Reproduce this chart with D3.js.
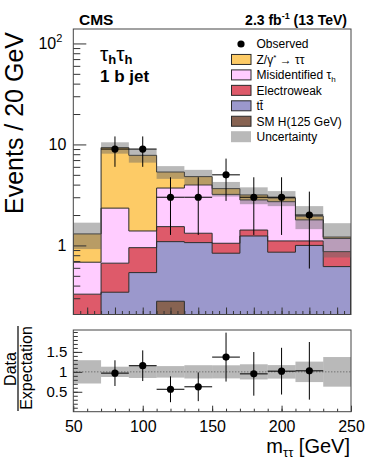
<!DOCTYPE html>
<html><head><meta charset="utf-8">
<script src="https://cdn.jsdelivr.net/npm/d3@7"></script>
<style>
body{margin:0;background:#fff}
svg{display:block}
text{font-family:"Liberation Sans",Arial,Helvetica,sans-serif;fill:#000}
</style>
</head><body><svg id="c" width="366" height="463"></svg>
<script>
// ---------------- data ----------------
const binEdges   = [50,70,90,110,130,150,170,190,210,230,250];
const higgs      = [0.0, 0.01, 0.08, 0.28, 0.08, 0.02, 0.01, 0.01, 0.0, 0.0];
const ttbar      = [0.12, 0.334, 0.458, 0.81, 0.986, 0.817, 1.23, 0.847, 1.0, 0.617];
const electroweak= [0.209, 0.323, 0.412, 0.445, 0.254, 0.213, 0.18, 0.251, 0.108, 0.251];
const misid      = [0.353, 1.673, 0.44, 2.165, 2.65, 2.15, 1.40, 1.602, 0.682, 0.302];
const ztt        = [0.618, 6.96, 6.41, 1.63, 0.83, 0.45, 0.34, 0.24, 0.16, 0.04];
const bkgUnc     = [0.38, 1.2, 1.2, 0.77, 0.8, 0.6, 0.6, 0.5, 0.5, 0.45];
const obsX       = [80,100,120,140,160,180,200,220];
const obs        = [9,9,3,3,5,3,3,2];
const obsErr     = [3,3,1.73,1.73,2.24,1.73,1.73,1.41];
const xTickLabels = [50,100,150,200,250];
const yTicksMain  = [1,10,100];
const yTicksRatio = [0.5,1,1.5];

const keys = ["higgs","ttbar","electroweak","misid","ztt"];
const colors = {higgs:"#876352", ttbar:"#9B98CC", electroweak:"#DE5A6A", misid:"#FFCCFF", ztt:"#FDCB66"};
const uncFill = "#636363", uncOpacity = 0.45;

// ---------------- layout ----------------
const svg = d3.select("#c");
const X0 = 73.3, X1 = 351;
const MT = 29, MB = 314.5;
const RT = 330, RB = 411.7;
const frameCol = "#444", tickCol = "#333";

const x = d3.scaleLinear().domain([50,250]).range([X0,X1]);
const y = d3.scaleLog().domain([0.207,139]).range([MB,MT]).clamp(true);
const yr = d3.scaleLinear().domain([0,2.05]).range([RB,RT]);

const rows = binEdges.slice(0,-1).map((e,i)=>({lo:e, hi:binEdges[i+1], higgs:higgs[i], ttbar:ttbar[i], electroweak:electroweak[i], misid:misid[i], ztt:ztt[i], unc:bkgUnc[i]}));
const series = d3.stack().keys(keys)(rows);
const total = rows.map((r,i)=>series[series.length-1][i][1]);

const defs = svg.append("defs");
defs.append("clipPath").attr("id","cm").append("rect").attr("x",X0).attr("y",MT).attr("width",X1-X0).attr("height",MB-MT);
defs.append("clipPath").attr("id","cr").append("rect").attr("x",X0).attr("y",RT).attr("width",X1-X0).attr("height",RB-RT);

// ---------------- main stack ----------------
const gm = svg.append("g").attr("clip-path","url(#cm)");
const stepPts = s => {
  const pts = s.map((d,i)=>({x:rows[i].lo, y0:d[0], y1:d[1]}));
  const last = s[s.length-1];
  pts.push({x:250, y0:last[0], y1:last[1]});
  return pts;
};
const area = d3.area().x(d=>x(d.x)).y0(d=>y(d.y0)).y1(d=>y(d.y1)).curve(d3.curveStepAfter);
series.forEach(s=>{
  gm.append("path").attr("d",area(stepPts(s))).attr("fill",colors[s.key]).attr("stroke","none");
});
const line = d3.line().x(d=>x(d.x)).y(d=>y(d.v)).curve(d3.curveStepAfter);
series.forEach(s=>{
  const pts = [{x:50,v:0.207}].concat(stepPts(s).map(p=>({x:p.x,v:p.y1}))).concat([{x:250,v:0.207}]);
  gm.append("path").attr("d",line(pts)).attr("fill","none").attr("stroke","#2a2a2a").attr("stroke-width",1);
});
// uncertainty band
gm.selectAll("rect.unc").data(rows).enter().append("rect")
  .attr("x",d=>x(d.lo)).attr("width",d=>x(d.hi)-x(d.lo))
  .attr("y",(d,i)=>y(total[i]+d.unc)).attr("height",(d,i)=>y(total[i]-d.unc)-y(total[i]+d.unc))
  .attr("fill",uncFill).attr("fill-opacity",uncOpacity);
// data
const gd = gm.append("g");
obs.forEach((n,i)=>{
  gd.append("line").attr("x1",x(obsX[i]-10)).attr("x2",x(obsX[i]+10)).attr("y1",y(n)).attr("y2",y(n)).attr("stroke","#000").attr("stroke-width",1);
  gd.append("line").attr("x1",x(obsX[i])).attr("x2",x(obsX[i])).attr("y1",y(n-obsErr[i])).attr("y2",y(n+obsErr[i])).attr("stroke","#000").attr("stroke-width",1);
  gd.append("circle").attr("cx",x(obsX[i])).attr("cy",y(n)).attr("r",3.6).attr("fill","#000");
});

// ---------------- main axes ----------------
function styleAxis(g){ g.select(".domain").remove(); g.selectAll(".tick line").attr("stroke",tickCol); }
const minorLog = [];
[0.1,1,10,100].forEach(d=>{ for(let k=2;k<=9;k++){ const v=k*d; if(v>=0.207 && v<=139) minorLog.push(v);} });
svg.append("g").attr("transform",`translate(${X0},0)`).call(d3.axisLeft(y).tickValues(minorLog).tickSize(-7).tickFormat("")).call(styleAxis);
const ya = svg.append("g").attr("transform",`translate(${X0},0)`)
  .call(d3.axisLeft(y).tickValues(yTicksMain).tickSize(-13).tickPadding(7).tickFormat(d=>d===100?"":String(d)))
  .call(styleAxis);
ya.selectAll("text").attr("font-size",16).attr("font-family","Liberation Sans, Arial, sans-serif").attr("fill","#000");
ya.selectAll(".tick").filter(d=>d===100).select("text").each(function(){
  const t=d3.select(this).attr("x",-11);
  t.append("tspan").text("10");
  t.append("tspan").attr("font-size",11).attr("dy",-7).text("2");
});
const minorX5 = d3.range(55,250,5);
svg.append("g").attr("transform",`translate(0,${MB})`).call(d3.axisBottom(x).tickValues(minorX5).tickSize(-3.5).tickFormat("")).call(styleAxis);
svg.append("g").attr("transform",`translate(0,${MB})`).call(d3.axisBottom(x).tickValues(d3.range(60,250,20)).tickSize(-7).tickFormat("")).call(styleAxis);
svg.append("rect").attr("x",X0).attr("y",MT).attr("width",X1-X0).attr("height",MB-MT).attr("fill","none").attr("stroke",frameCol).attr("stroke-width",1);

// ---------------- ratio panel ----------------
const gr = svg.append("g").attr("clip-path","url(#cr)");
gr.selectAll("rect.runc").data(rows).enter().append("rect")
  .attr("x",d=>x(d.lo)).attr("width",d=>x(d.hi)-x(d.lo))
  .attr("y",(d,i)=>yr(1+d.unc/total[i])).attr("height",(d,i)=>yr(1-d.unc/total[i])-yr(1+d.unc/total[i]))
  .attr("fill",uncFill).attr("fill-opacity",uncOpacity);
gr.append("line").attr("x1",X0).attr("x2",X1).attr("y1",yr(1)).attr("y2",yr(1)).attr("stroke","#555").attr("stroke-width",1).attr("stroke-dasharray","1,2");
obs.forEach((n,i)=>{
  const bi = binEdges.indexOf(obsX[i]-10);
  const T = total[bi];
  const r = n/T, e = obsErr[i]/T;
  gr.append("line").attr("x1",x(obsX[i]-10)).attr("x2",x(obsX[i]+10)).attr("y1",yr(r)).attr("y2",yr(r)).attr("stroke","#000");
  gr.append("line").attr("x1",x(obsX[i])).attr("x2",x(obsX[i])).attr("y1",yr(r-e)).attr("y2",yr(r+e)).attr("stroke","#000");
  gr.append("circle").attr("cx",x(obsX[i])).attr("cy",yr(r)).attr("r",3.6).attr("fill","#000");
});
svg.append("g").attr("transform",`translate(${X0},0)`).call(d3.axisLeft(yr).tickValues(d3.range(1,21).map(k=>k/10)).tickSize(-4.5).tickFormat("")).call(styleAxis);
const yra = svg.append("g").attr("transform",`translate(${X0},0)`)
  .call(d3.axisLeft(yr).tickValues(yTicksRatio).tickSize(-9).tickPadding(6).tickFormat(d=>String(d)))
  .call(styleAxis);
yra.selectAll("text").attr("font-size",15).attr("font-family","Liberation Sans, Arial, sans-serif").attr("fill","#000");
svg.append("g").attr("transform",`translate(0,${RB})`).call(d3.axisBottom(x).tickValues(d3.range(60,250,10)).tickSize(-3).tickFormat("")).call(styleAxis);
const xa = svg.append("g").attr("transform",`translate(0,${RB})`)
  .call(d3.axisBottom(x).tickValues(xTickLabels).tickSize(-6).tickPadding(8.5).tickFormat(d=>String(d)))
  .call(styleAxis);
xa.selectAll("text").attr("font-size",16).attr("font-family","Liberation Sans, Arial, sans-serif").attr("fill","#000");
svg.append("rect").attr("x",X0).attr("y",RT).attr("width",X1-X0).attr("height",RB-RT).attr("fill","none").attr("stroke",frameCol).attr("stroke-width",1);

// ---------------- titles ----------------
svg.append("text").attr("transform","translate(23,32) rotate(-90)").attr("text-anchor","end").attr("font-size",25).text("Events / 20 GeV");
const xt = svg.append("text").attr("x",350).attr("y",453).attr("text-anchor","end").attr("font-size",20);
xt.append("tspan").text("m");
xt.append("tspan").attr("font-size",13).attr("dy",4).text("ττ");
xt.append("tspan").attr("dy",-4).text(" [GeV]");
svg.append("text").attr("transform","translate(15.5,369) rotate(-90)").attr("text-anchor","middle").attr("font-size",16).text("Data");
svg.append("line").attr("x1",18).attr("x2",18).attr("y1",326).attr("y2",411).attr("stroke","#000").attr("stroke-width",1.2);
svg.append("text").attr("transform","translate(31.5,368) rotate(-90)").attr("text-anchor","middle").attr("font-size",16).text("Expectation");

svg.append("text").attr("x",79).attr("y",25).attr("font-size",15.5).attr("font-weight","bold").text("CMS");
const lum = svg.append("text").attr("x",347).attr("y",25).attr("text-anchor","end").attr("font-size",14).attr("font-weight","bold");
lum.append("tspan").text("2.3 fb");
lum.append("tspan").attr("font-size",9).attr("dy",-6).text("-1");
lum.append("tspan").attr("dy",6).text(" (13 TeV)");

const ch = svg.append("text").attr("x",100).attr("y",61).attr("font-size",21);
ch.append("tspan").text("τ");
ch.append("tspan").attr("font-size",13).attr("font-weight","bold").attr("dy",3).text("h");
ch.append("tspan").attr("dy",-3).text("τ");
ch.append("tspan").attr("font-size",13).attr("font-weight","bold").attr("dy",3).text("h");
svg.append("text").attr("x",100).attr("y",82).attr("font-size",17).attr("font-weight","bold").text("1 b jet");

// ---------------- legend ----------------
const legY0 = 44, legDy = 15.45, lx = 231, ltx = 256.5;
const lg = svg.append("g");
lg.append("circle").attr("cx",241).attr("cy",legY0).attr("r",3.6).attr("fill","#000");
lg.append("text").attr("x",ltx).attr("y",legY0+4.3).attr("font-size",12).text("Observed");
const legItems = [
  {k:"ztt"},{k:"misid"},{k:"electroweak"},{k:"ttbar"},{k:"higgs"},{k:"unc"}
];
legItems.forEach((it,i)=>{
  const cy = legY0 + legDy*(i+1);
  if(it.k==="unc"){
    lg.append("rect").attr("x",lx).attr("y",cy-5.5).attr("width",20).attr("height",11).attr("fill",uncFill).attr("fill-opacity",uncOpacity);
  } else {
    lg.append("rect").attr("x",lx+0.5).attr("y",cy-5).attr("width",19.5).attr("height",10).attr("fill",colors[it.k]).attr("stroke","#2a2a2a").attr("stroke-width",1);
  }
  const t = lg.append("text").attr("x",ltx).attr("y",cy+4.3).attr("font-size",12);
  if(it.k==="ztt"){ t.append("tspan").text("Z/γ"); t.append("tspan").attr("font-size",8).attr("dy",-4).text("*"); t.append("tspan").attr("dy",4).text(" → ττ"); }
  if(it.k==="misid"){ t.append("tspan").text("Misidentified τ"); t.append("tspan").attr("font-size",8).attr("dy",3).text("h"); }
  if(it.k==="electroweak"){ t.text("Electroweak"); }
  if(it.k==="ttbar"){ t.text("tt\u0304"); }
  if(it.k==="higgs"){ t.text("SM H(125 GeV)"); }
  if(it.k==="unc"){ t.text("Uncertainty"); }
});
</script>
</body></html>
